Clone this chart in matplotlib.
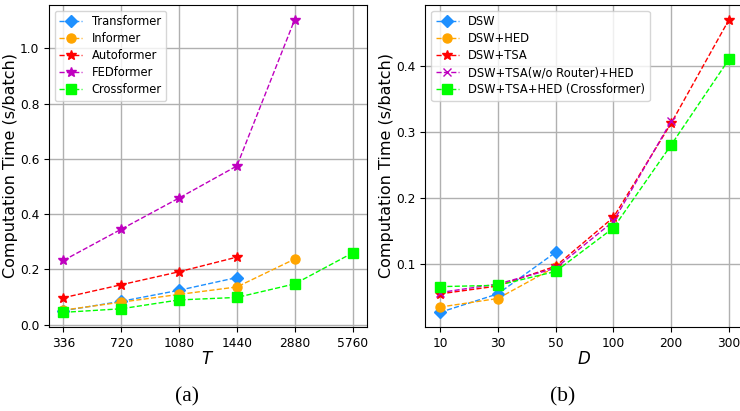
import matplotlib
matplotlib.use('Agg')
import matplotlib.pyplot as plt

# ----------------------------
# (a) computation time vs input length T
t_labels = ['336', '720', '1080', '1440', '2880', '5760']

transformer = [0.050, 0.084, 0.124, 0.170]
informer    = [0.052, 0.081, 0.109, 0.136, 0.237]
autoformer  = [0.097, 0.144, 0.191, 0.244]
fedformer   = [0.232, 0.345, 0.458, 0.574, 1.104]
crossformer = [0.044, 0.057, 0.089, 0.098, 0.147, 0.259]

# (b) computation time vs number of dimensions D
d_labels = ['10', '30', '50', '100', '200', '300']

dsw         = [0.026, 0.054, 0.117]
dsw_hed     = [0.034, 0.047, 0.095]
dsw_tsa     = [0.054, 0.066, 0.096, 0.170, 0.313, 0.470]
dsw_tsa_nor = [0.056, 0.069, 0.093, 0.164, 0.316]
dsw_tsa_hed = [0.065, 0.067, 0.088, 0.154, 0.280, 0.410]
# ----------------------------

fig = plt.figure(figsize=(7.4, 4.11), dpi=100)
ax_a = fig.add_axes([0.0662, 0.2044, 0.4297, 0.7835])
ax_b = fig.add_axes([0.5750, 0.2044, 0.4297, 0.7835])

def _series(ax, values, label, color, marker, ms):
    xs = list(range(len(values)))
    ax.plot(xs, values, linestyle='--', linewidth=1.0, color=color,
            marker=marker, markersize=ms, label=label)

_series(ax_a, transformer, 'Transformer', 'dodgerblue', 'D', 6.5)
_series(ax_a, informer,    'Informer',    'orange',     'o', 6.5)
_series(ax_a, autoformer,  'Autoformer',  'red',        '*', 7)
_series(ax_a, fedformer,   'FEDformer',   'm',          '*', 7)
_series(ax_a, crossformer, 'Crossformer', 'lime',       's', 6.5)

_series(ax_b, dsw,         'DSW',                         'dodgerblue', 'D', 6.5)
_series(ax_b, dsw_hed,     'DSW+HED',                     'orange',     'o', 6.5)
_series(ax_b, dsw_tsa,     'DSW+TSA',                     'red',        '*', 7)
_series(ax_b, dsw_tsa_nor, 'DSW+TSA(w/o Router)+HED',     'm',          'x', 6)
_series(ax_b, dsw_tsa_hed, 'DSW+TSA+HED (Crossformer)',   'lime',       's', 6.5)

for ax, labels, xlab in [(ax_a, t_labels, '$T$'), (ax_b, d_labels, '$D$')]:
    ax.set_xticks(range(len(labels)))
    ax.set_xticklabels(labels)
    ax.tick_params(labelsize=8.8)
    ax.grid(True, color='#b0b0b0', linewidth=1.0)
    ax.set_axisbelow(True)
    ax.set_xlabel(xlab, fontsize=12, labelpad=0)
    ax.set_ylabel('Computation Time (s/batch)', fontsize=11.5, labelpad=1.5)
    ax.legend(loc='upper left', fontsize=8.3, labelspacing=0.35,
              framealpha=0.8)

ax_a.set_yticks([0.0, 0.2, 0.4, 0.6, 0.8, 1.0])
ax_b.set_yticks([0.1, 0.2, 0.3, 0.4])

fig.text(187 / 740, 1 - 397 / 411, '(a)', ha='center', va='center',
         fontsize=15.5, family='Liberation Serif')
fig.text(563 / 740, 1 - 397 / 411, '(b)', ha='center', va='center',
         fontsize=15.5, family='Liberation Serif')

plt.savefig('out.png', dpi=100)
plt.close()
